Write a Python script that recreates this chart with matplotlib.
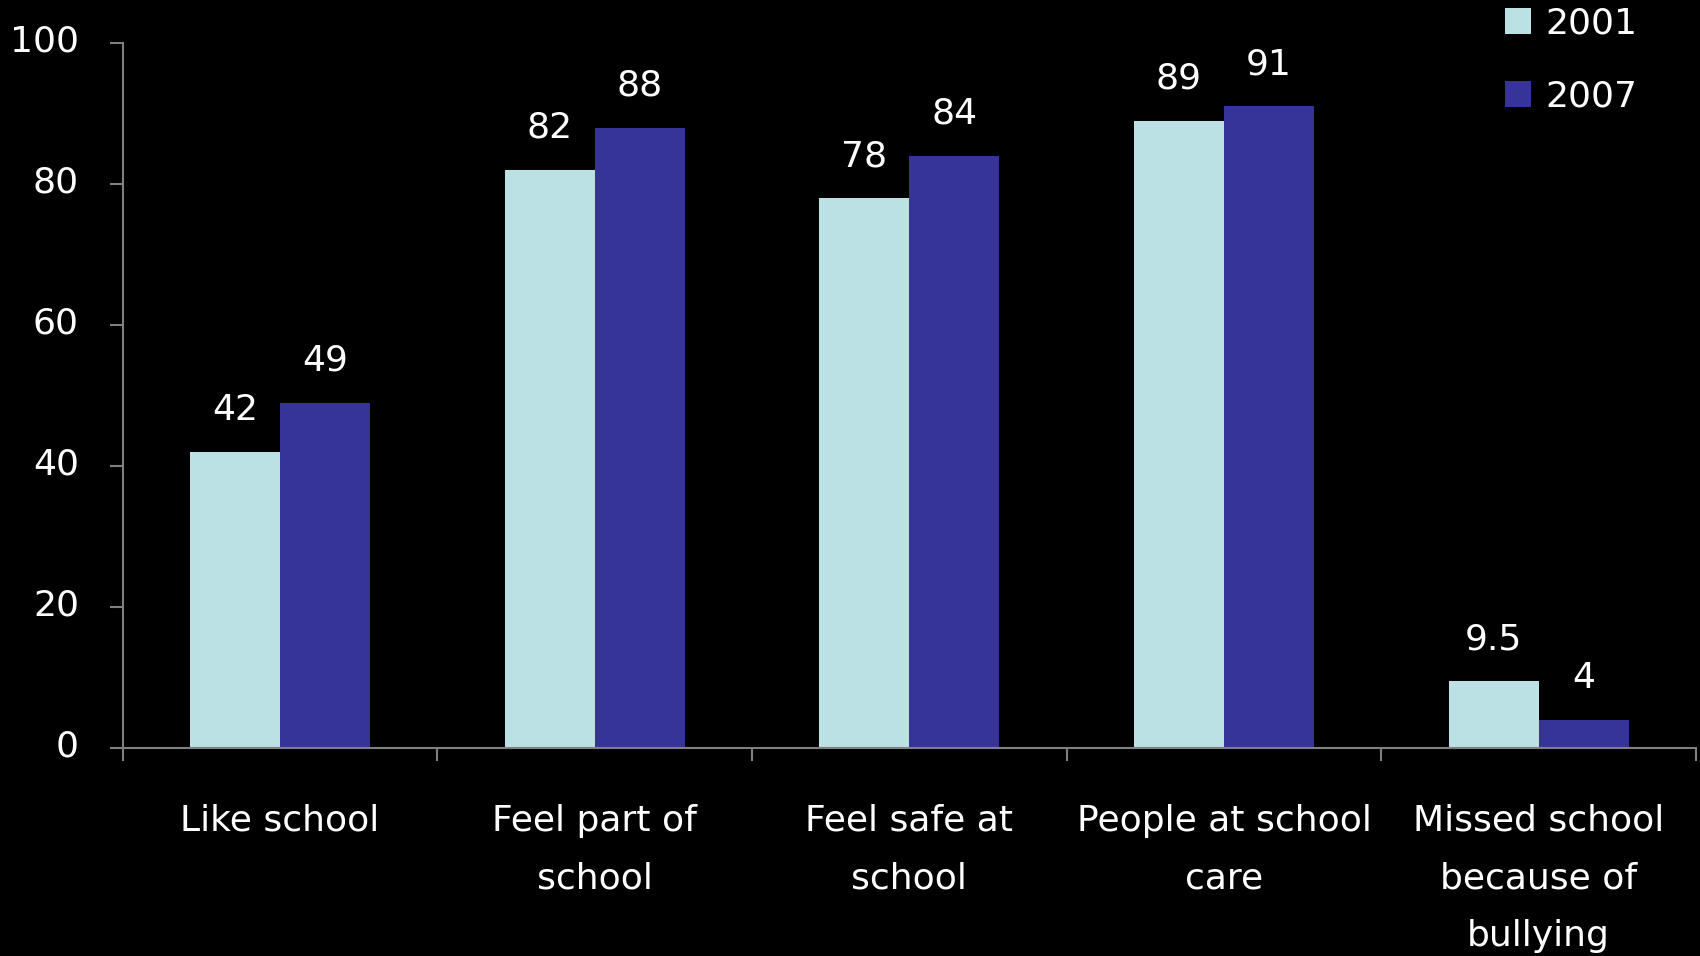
import matplotlib
matplotlib.use("Agg")
import matplotlib.pyplot as plt
import matplotlib.transforms as mtransforms
import numpy as np

categories = ["Like school", "Feel part of\nschool", "Feel safe at\nschool",
              "People at school\ncare", "Missed school\nbecause of\nbullying"]
series_names = ["2001", "2007"]
values_2001 = [42, 82, 78, 89, 9.5]
values_2007 = [49, 88, 84, 91, 4]
label_2001 = ["42", "82", "78", "89", "9.5"]
label_2007 = ["49", "88", "84", "91", "4"]
yticks = [0, 20, 40, 60, 80, 100]

c1 = "#BCE1E4"
c2 = "#373499"
axc = "#808080"
fs = 26

plt.rcParams['font.family'] = ['DejaVu Sans']
fig = plt.figure(figsize=(17, 9.56), dpi=100, facecolor="black")
ax = fig.add_axes([0.0722, 0.2176, 0.9976 - 0.0722, 0.955 - 0.2176])
ax.set_facecolor("black")

x = np.arange(len(categories))
w = 0.286
b1 = ax.bar(x - w / 2, values_2001, w, color=c1, label=series_names[0])
b2 = ax.bar(x + w / 2, values_2007, w, color=c2, label=series_names[1])

for bars, labs in ((b1, label_2001), (b2, label_2007)):
    for r, t in zip(bars, labs):
        ax.annotate(t, (r.get_x() + r.get_width() / 2, r.get_height()),
                    xytext=(0, 18), textcoords="offset points",
                    ha="center", va="bottom", color="white", fontsize=fs)

ax.set_xlim(-0.5, len(categories) - 0.5)
ax.set_ylim(0, 100)
ax.set_yticks(yticks)
ax.set_yticklabels([str(v) for v in yticks])
ax.set_xticks(np.arange(len(categories) + 1) - 0.5)
ax.set_xticklabels([])
ax.set_xticks(x, minor=True)
ax.set_xticklabels(categories, minor=True, linespacing=1.87)
ax.tick_params(axis="x", which="minor", length=0, pad=40, labelsize=fs, labelcolor="white")
ax.tick_params(axis="x", which="major", length=9.5, width=1.5, color=axc, direction="out")
ax.tick_params(axis="y", length=9.5, width=1.5, color=axc, pad=22, labelsize=fs, labelcolor="white")

shift = mtransforms.ScaledTranslation(0, 5 / 100, fig.dpi_scale_trans)
for lab in ax.get_yticklabels():
    lab.set_transform(lab.get_transform() + shift)

for s in ("top", "right"):
    ax.spines[s].set_visible(False)
for s in ("left", "bottom"):
    ax.spines[s].set_color(axc)
    ax.spines[s].set_linewidth(1.5)

leg = fig.legend(handles=[b1, b2], labels=series_names, loc="upper left",
                 bbox_to_anchor=(0.866, 1.027), frameon=False, fontsize=fs,
                 handlelength=0.72, handleheight=0.72, handletextpad=0.4,
                 labelspacing=1.07, labelcolor="white")

fig.savefig("out.png", dpi=100, facecolor="black")
